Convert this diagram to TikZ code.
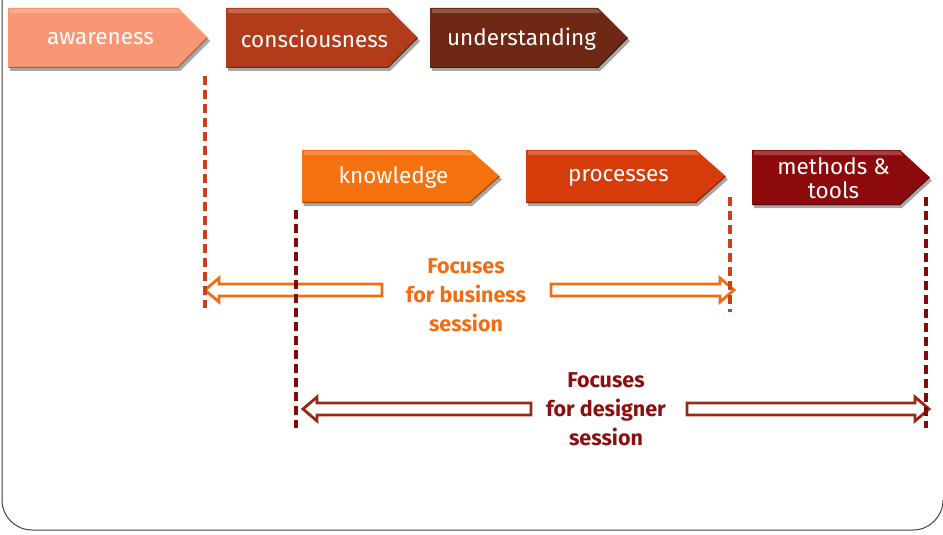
\documentclass[tikz,border=0pt]{standalone}
\usepackage{fontspec}
\setmainfont{Fira Sans}
\definecolor{cAware}{RGB}{250,150,115}
\definecolor{cCons}{RGB}{178,60,26}
\definecolor{cUnder}{RGB}{110,40,20}
\definecolor{cKnow}{RGB}{246,114,14}
\definecolor{cProc}{RGB}{214,60,10}
\definecolor{cMeth}{RGB}{140,10,12}
\definecolor{cBus}{RGB}{242,108,20}
\definecolor{cDes}{RGB}{150,40,20}
\definecolor{cDesText}{RGB}{140,16,16}
\definecolor{cDashO}{RGB}{208,62,24}
\definecolor{cDashR}{RGB}{130,10,10}
\definecolor{cFrame}{RGB}{64,64,64}
\newcommand{\chev}[7]{%
  \fill[black, opacity=.35] ({#2+2},{#3+3}) -- ({#4-30+2},{#3+3}) -- ({#4+2},{(#3+#5)/2+3}) -- ({#4-30+2},{#5+3}) -- ({#2+2},{#5+3}) -- cycle;
  \fill[#6] (#2,#3) -- ({#4-30},#3) -- (#4,{(#3+#5)/2}) -- ({#4-30},#5) -- (#2,#5) -- cycle;
  \fill[white, opacity=.22] ({#2+2},{#3+1}) -- ({#4-31},{#3+1}) -- ({#4-27},{#3+5}) -- ({#2+2},{#3+5}) -- cycle;
  \draw[#6!65!black, line width=1.2] ({#2+1},{#5-0.6}) -- ({#4-30},{#5-0.6}) -- ({#4-1},{(#3+#5)/2});
  \node[boxtext] (#1) at ({(#2+#4-15)/2},{(#3+#5)/2+1}) {#7};
}
\newcommand{\blockarrow}[6]{% #1 name, #2 tail x, #3 base x, #4 tip x, #5 y, #6 color
  \coordinate (#1-tail) at (#2,#5);
  \coordinate (#1-tip) at (#4,#5);
  \filldraw[fill=white, draw=#6, line width=2.8, line join=miter]
    (#2,{#5-6}) -- (#3,{#5-6}) -- (#3,{#5-12}) -- (#1-tip) -- (#3,{#5+12}) -- (#3,{#5+6}) -- (#2,{#5+6}) -- cycle;
}
\tikzset{
  boxtext/.style={text=white, font=\fontsize{22.5}{24}\selectfont, align=center, inner sep=0pt},
  guide/.style={line width=3.4, dash pattern=on 9pt off 5pt},
  focus/.style={font=\fontsize{21.5}{29}\selectfont\bfseries, align=center, inner sep=0pt},
}
\begin{document}
\begin{tikzpicture}[x=1pt,y=-1pt]
\useasboundingbox (0,0) rectangle (943,535);
% frame
\coordinate (ftop) at (2,-2);
\draw[cFrame, line width=1] (ftop) -- (2,500) arc[start angle=180, end angle=90, radius=30] -- (913,530) arc[start angle=90, end angle=0, radius=30];
% top row
\chev{aware}{8}{8}{208}{68}{cAware}{awareness}
\chev{cons}{226}{8}{418}{68}{cCons}{consciousness}
\chev{under}{430}{8}{628}{68}{cUnder}{understanding}
% second row
\chev{know}{302}{150}{500}{203}{cKnow}{knowledge}
\chev{proc}{526}{150}{726}{203}{cProc}{processes}
\chev{meth}{752}{150}{930}{205}{cMeth}{methods \&\\tools}
% guide lines
\coordinate (g1a) at (205,76); \coordinate (g1b) at (205,308);
\coordinate (g2a) at (730,197); \coordinate (g2b) at (730,312);
\coordinate (g3a) at (296,210); \coordinate (g3b) at (296,428);
\coordinate (g4a) at (926,197); \coordinate (g4b) at (926,428);
% arrows business
\blockarrow{bl}{382}{219}{205}{290}{cBus}
\blockarrow{br}{551}{720}{734}{290}{cBus}
% arrows designer
\blockarrow{dl}{531}{317}{303}{409}{cDes}
\blockarrow{dr}{687}{915}{929}{409}{cDes}
\draw[guide, cDashO] (g1a) -- (g1b);
\draw[guide, cDashO] (g2a) -- (g2b);
\draw[guide, cDashR] (g3a) -- (g3b);
\draw[guide, cDashR] (g4a) -- (g4b);
% labels
\node[focus, text=cBus] (bus) at (466,295) {Focuses\\for business\\session};
\node[focus, text=cDesText] (des) at (606,409) {Focuses\\for designer\\session};
\end{tikzpicture}
\end{document}
